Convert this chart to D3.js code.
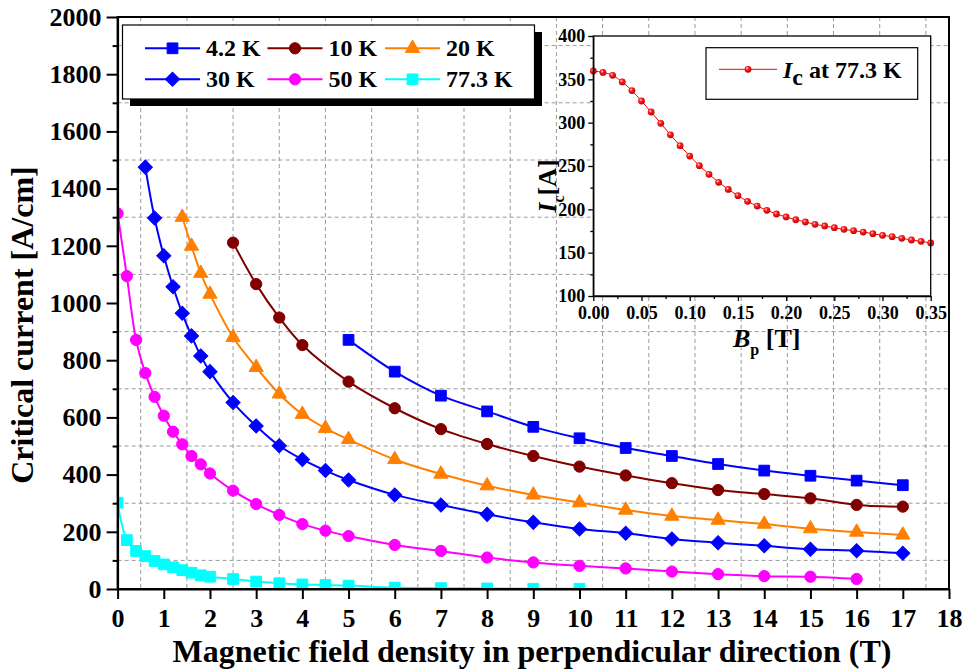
<!DOCTYPE html>
<html>
<head>
<meta charset="utf-8">
<script src="https://cdn.jsdelivr.net/npm/d3@7"></script>
<style>
  html, body { margin: 0; padding: 0; background: #fff; }
  svg text { font-family: "Liberation Serif", "Times New Roman", serif; font-weight: bold; fill: #000; }
</style>
</head>
<body>
<svg id="chart" width="966" height="670"></svg>
<script>
// ---- Critical current vs. perpendicular field, per temperature ----
const field42 = [5, 6, 7, 8, 9, 10, 11, 12, 13, 14, 15, 16, 17];
const ic42    = [871, 760, 676, 621, 567, 527, 493, 465, 437, 414, 396, 379, 363];

const field10 = [2.5, 3, 3.5, 4, 5, 6, 7, 8, 9, 10, 11, 12, 13, 14, 15, 16, 17];
const ic10    = [1211, 1066, 949, 853, 725, 632, 559, 507, 465, 428, 397, 370, 346, 332, 317, 294, 288];

const field20 = [1.4, 1.6, 1.8, 2.0, 2.5, 3, 3.5, 4, 4.5, 5, 6, 7, 8, 9, 10, 11, 12, 13, 14, 15, 16, 17];
const ic20    = [1300, 1199, 1104, 1031, 880, 775, 682, 611, 562, 523, 453, 402, 361, 329, 302, 276, 255, 241, 227, 211, 199, 189];

const field30 = [0.6, 0.8, 1.0, 1.2, 1.4, 1.6, 1.8, 2.0, 2.5, 3, 3.5, 4, 4.5, 5, 6, 7, 8, 9, 10, 11, 12, 13, 14, 15, 16, 17];
const ic30    = [1475, 1297, 1165, 1057, 964, 885, 815, 760, 652, 570, 501, 453, 414, 381, 329, 294, 261, 233, 210, 195, 175, 162, 151, 139, 134, 125];

const field50 = [0, 0.2, 0.4, 0.6, 0.8, 1.0, 1.2, 1.4, 1.6, 1.8, 2.0, 2.5, 3, 3.5, 4, 4.5, 5, 6, 7, 8, 9, 10, 11, 12, 13, 14, 15, 16];
const ic50    = [1313, 1094, 871, 755, 672, 606, 550, 506, 465, 436, 404, 344, 297, 259, 227, 204, 185, 154, 133, 110, 93, 81, 72, 61, 52, 45, 43, 35];

const field77 = [0, 0.2, 0.4, 0.6, 0.8, 1.0, 1.2, 1.4, 1.6, 1.8, 2.0, 2.5, 3, 3.5, 4, 4.5, 5, 6, 7, 8, 9, 10];
const ic77    = [302, 171, 133, 115, 98, 86, 76, 66, 57, 48, 43, 35, 26, 20, 16, 14, 12, 5, 3, 2, 1, 1];

const seriesNames   = ["4.2 K", "10 K", "20 K", "30 K", "50 K", "77.3 K"];
const seriesColors  = ["#0000ff", "#800000", "#ff8000", "#0000ff", "#ff00ff", "#00ffff"];
const seriesSymbols = ["square", "circle", "triangle", "diamond", "circle", "square"];

// ---- Inset: Ic at 77.3 K vs. low field ----
const insetField = [0.00, 0.01, 0.02, 0.03, 0.04, 0.05, 0.06, 0.07, 0.08, 0.09, 0.10, 0.11, 0.12,
                    0.13, 0.14, 0.15, 0.16, 0.17, 0.18, 0.19, 0.20, 0.21, 0.22, 0.23, 0.24, 0.25,
                    0.26, 0.27, 0.28, 0.29, 0.30, 0.31, 0.32, 0.33, 0.34, 0.35];
const insetIc    = [359.6, 358.0, 354.6, 347.0, 337.0, 325.0, 312.3, 299.2, 286.0, 273.5, 261.5, 250.4, 240.4,
                    231.2, 223.0, 215.8, 209.2, 203.8, 198.8, 194.6, 191.2, 188.0, 185.4, 182.7, 180.8, 178.8,
                    176.9, 175.4, 173.8, 171.9, 170.0, 168.5, 166.5, 164.6, 163.1, 161.2];

// ---- Tick values ----
const xTicks      = d3.range(0, 19, 1);
const yTicks      = d3.range(0, 2001, 200);
const yMinorTicks = d3.range(100, 2000, 200);
const xGrid       = d3.range(0.5, 18, 1);
const insetXTicks      = [0, 0.05, 0.10, 0.15, 0.20, 0.25, 0.30, 0.35];
const insetXMinorTicks = [0.025, 0.075, 0.125, 0.175, 0.225, 0.275, 0.325];
const insetYTicks      = [100, 150, 200, 250, 300, 350, 400];
const insetYMinorTicks = [125, 175, 225, 275, 325, 375];

const series = [
  { x: field42, y: ic42 }, { x: field10, y: ic10 }, { x: field20, y: ic20 },
  { x: field30, y: ic30 }, { x: field50, y: ic50 }, { x: field77, y: ic77 }
].map((s, i) => ({
  name: seriesNames[i], color: seriesColors[i], symbol: seriesSymbols[i],
  points: s.x.map((v, j) => ({ x: v, y: s.y[j] }))
}));

const svg = d3.select("#chart");
svg.append("rect").attr("width", 966).attr("height", 670).attr("fill", "#fff");

const L = 117.6, R = 949, T = 17, B = 589;
const x = d3.scaleLinear().domain([0, 18]).range([L, R]);
const y = d3.scaleLinear().domain([0, 2000]).range([B, T]);

const defs = svg.append("defs");
defs.append("clipPath").attr("id", "plotClip")
  .append("rect").attr("x", L).attr("y", T).attr("width", R - L).attr("height", B - T);

const grad = defs.append("radialGradient").attr("id", "ball")
  .attr("cx", "38%").attr("cy", "35%").attr("r", "65%");
grad.append("stop").attr("offset", "0%").attr("stop-color", "#ffe0e0");
grad.append("stop").attr("offset", "35%").attr("stop-color", "#ff2020");
grad.append("stop").attr("offset", "100%").attr("stop-color", "#c00000");

// grid
const gridStyle = g => g.attr("stroke", "#9a9a9a").attr("stroke-width", 1).attr("stroke-dasharray", "4,3");
svg.append("g").call(gridStyle).selectAll("line").data(xGrid).join("line")
  .attr("x1", d => x(d)).attr("x2", d => x(d)).attr("y1", T).attr("y2", B);
svg.append("g").call(gridStyle).selectAll("line").data(yMinorTicks).join("line")
  .attr("x1", L).attr("x2", R).attr("y1", d => y(d)).attr("y2", d => y(d));

// marker shapes
function drawSymbol(g, kind, color) {
  let d, rot = 0;
  if (kind === "square")   d = d3.symbol(d3.symbolSquare, 115)();
  if (kind === "circle")   d = d3.symbol(d3.symbolCircle, 100)();
  if (kind === "triangle") d = d3.symbol(d3.symbolTriangle, 88)();
  if (kind === "diamond")  { d = d3.symbol(d3.symbolSquare, 100)(); rot = 45; }
  return g.append("path").attr("d", d).attr("transform", `rotate(${rot})`)
    .attr("fill", color).attr("stroke", color).attr("stroke-width", 1);
}

// data
const line = d3.line().x(d => x(d.x)).y(d => y(d.y)).curve(d3.curveCatmullRom.alpha(0.5));
const plot = svg.append("g").attr("clip-path", "url(#plotClip)");
series.forEach(s => {
  plot.append("path").datum(s.points).attr("d", line)
    .attr("fill", "none").attr("stroke", s.color).attr("stroke-width", 2);
  s.points.forEach(p => {
    const g = plot.append("g").attr("transform", `translate(${x(p.x)},${y(p.y)})`);
    drawSymbol(g, s.symbol, s.color);
  });
});

// axes
const axisFont = g => g.selectAll("text").style("font-family", '"Liberation Serif", serif')
  .style("font-weight", "bold").style("font-size", "26px").attr("fill", "#000");
svg.append("g").attr("transform", `translate(${L},0)`)
  .call(d3.axisLeft(y).tickValues(yTicks).tickSize(11).tickSizeOuter(0).tickPadding(5).tickFormat(d3.format("d")))
  .call(axisFont);
svg.append("g").attr("transform", `translate(${L},0)`)
  .call(d3.axisLeft(y).tickValues(yMinorTicks).tickSize(5).tickSizeOuter(0).tickFormat(""))
  .select(".domain").remove();
svg.append("g").attr("transform", `translate(0,${B})`)
  .call(d3.axisBottom(x).tickValues(xTicks).tickSize(10).tickSizeOuter(0).tickPadding(10).tickFormat(d3.format("d")))
  .call(axisFont);
svg.selectAll(".domain, .tick line").attr("stroke", "#000").attr("stroke-width", 2);

// frame
svg.append("rect").attr("x", L).attr("y", T).attr("width", R - L).attr("height", B - T)
  .attr("fill", "none").attr("stroke", "#000").attr("stroke-width", 2);

// axis titles
svg.append("text").attr("x", 532).attr("y", 662).attr("text-anchor", "middle")
  .style("font-size", "32px").text("Magnetic field density in perpendicular direction (T)");
svg.append("text").attr("transform", "translate(33,325) rotate(-90)").attr("text-anchor", "middle")
  .style("font-size", "32px").text("Critical current [A/cm]");

// legend
const lg = svg.append("g");
lg.append("rect").attr("x", 130).attr("y", 32).attr("width", 412).attr("height", 74).attr("fill", "#000");
lg.append("rect").attr("x", 122.5).attr("y", 25).attr("width", 412).attr("height", 74)
  .attr("fill", "#fff").attr("stroke", "#000").attr("stroke-width", 1.2);
const colX = [145, 267.5, 385];
const rowY = [48.3, 79.3];
series.forEach((s, i) => {
  const cx = colX[i % 3], cy = rowY[Math.floor(i / 3)];
  lg.append("line").attr("x1", cx).attr("x2", cx + 55).attr("y1", cy).attr("y2", cy)
    .attr("stroke", s.color).attr("stroke-width", 2);
  const g = lg.append("g").attr("transform", `translate(${cx + 27.5},${cy})`);
  drawSymbol(g, s.symbol, s.color);
  lg.append("text").attr("x", cx + 61).attr("y", cy + 8).style("font-size", "24px").text(s.name);
});

// ---- inset ----
const iL = 593.3, iR = 930.7, iT = 36, iB = 296;
const xi = d3.scaleLinear().domain([0, 0.35]).range([iL, iR]);
const yi = d3.scaleLinear().domain([100, 400]).range([iB, iT]);
const inset = svg.append("g");
inset.append("rect").attr("x", iL).attr("y", iT).attr("width", iR - iL).attr("height", iB - iT).attr("fill", "#fff");

const insetPts = insetField.map((v, i) => ({ x: v, y: insetIc[i] }));
inset.append("path").datum(insetPts)
  .attr("d", d3.line().x(d => xi(d.x)).y(d => yi(d.y)).curve(d3.curveCatmullRom.alpha(0.5)))
  .attr("fill", "none").attr("stroke", "#ff0000").attr("stroke-width", 1);
inset.selectAll("circle.pt").data(insetPts).join("circle").attr("class", "pt")
  .attr("cx", d => xi(d.x)).attr("cy", d => yi(d.y)).attr("r", 3.4).attr("fill", "url(#ball)");

const insetFont = g => g.selectAll("text").style("font-family", '"Liberation Serif", serif')
  .style("font-weight", "bold").style("font-size", "18px").attr("fill", "#000");
inset.append("g").attr("transform", `translate(${iL},0)`)
  .call(d3.axisLeft(yi).tickValues(insetYTicks).tickSize(5).tickSizeOuter(0).tickPadding(3).tickFormat(d3.format("d")))
  .call(insetFont);
inset.append("g").attr("transform", `translate(${iL},0)`)
  .call(d3.axisLeft(yi).tickValues(insetYMinorTicks).tickSize(3).tickSizeOuter(0).tickFormat(""))
  .select(".domain").remove();
inset.append("g").attr("transform", `translate(0,${iB})`)
  .call(d3.axisBottom(xi).tickValues(insetXTicks).tickSize(5).tickSizeOuter(0).tickPadding(5).tickFormat(d3.format(".2f")))
  .call(insetFont);
inset.append("g").attr("transform", `translate(0,${iB})`)
  .call(d3.axisBottom(xi).tickValues(insetXMinorTicks).tickSize(3).tickSizeOuter(0).tickFormat(""))
  .select(".domain").remove();
inset.selectAll(".domain, .tick line").attr("stroke", "#000").attr("stroke-width", 1.3);
inset.append("rect").attr("x", iL).attr("y", iT).attr("width", iR - iL).attr("height", iB - iT)
  .attr("fill", "none").attr("stroke", "#000").attr("stroke-width", 1.3);

// inset titles
const bt = inset.append("text").attr("x", 733).attr("y", 347).style("font-size", "26px");
bt.append("tspan").style("font-style", "italic").text("B");
bt.append("tspan").attr("dy", 8).style("font-size", "16px").text("p");
bt.append("tspan").attr("dy", -8).text(" [T]");

const it = inset.append("text").attr("transform", "translate(556,186) rotate(-90)")
  .attr("text-anchor", "middle").style("font-size", "26px");
it.append("tspan").style("font-style", "italic").text("I");
it.append("tspan").attr("dy", 8).style("font-size", "16px").text("c");
it.append("tspan").attr("dy", -8).text("[A]");

// inset legend
inset.append("rect").attr("x", 706).attr("y", 47.7).attr("width", 211.7).attr("height", 51.6)
  .attr("fill", "#fff").attr("stroke", "#000").attr("stroke-width", 1.2);
inset.append("line").attr("x1", 719).attr("x2", 777).attr("y1", 69.3).attr("y2", 69.3)
  .attr("stroke", "#ff0000").attr("stroke-width", 1);
inset.append("circle").attr("cx", 748).attr("cy", 69.3).attr("r", 3.4).attr("fill", "url(#ball)");
const lt = inset.append("text").attr("x", 783).attr("y", 78).style("font-size", "24px");
lt.append("tspan").style("font-style", "italic").text("I");
lt.append("tspan").attr("dy", 7).text("c");
lt.append("tspan").attr("dy", -7).text(" at 77.3 K");
</script>
</body>
</html>
